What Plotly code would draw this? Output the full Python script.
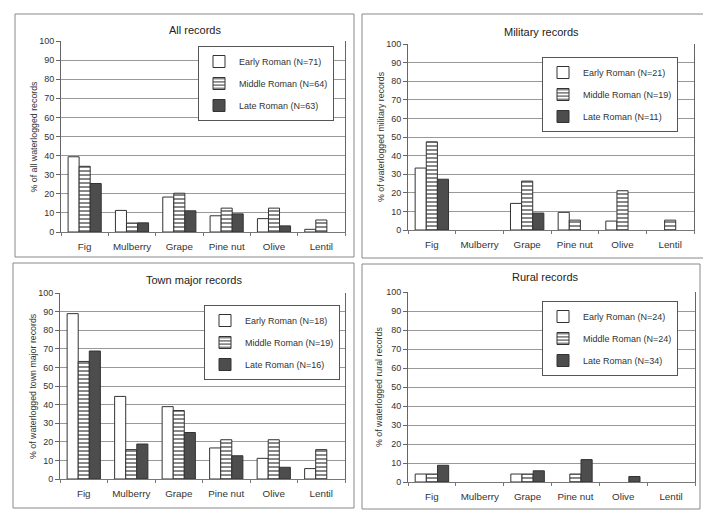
import plotly.graph_objects as go

crops = ["Fig", "Mulberry", "Grape", "Pine nut", "Olive", "Lentil"]

panel_titles = ["All records", "Military records", "Town major records", "Rural records"]
y_titles = ["% of all waterlogged records", "% of waterlogged military records",
            "% of waterlogged town major records", "% of waterlogged rural records"]

periods = ["Early Roman", "Middle Roman", "Late Roman"]
n_counts = [[71, 64, 63], [21, 19, 11], [18, 19, 16], [24, 24, 34]]

all_early = [39.4, 11.3, 18.3, 8.5, 7.0, 1.4]
all_middle = [34.4, 4.7, 20.3, 12.5, 12.5, 6.3]
all_late = [25.4, 4.8, 11.1, 9.5, 3.2, 0]

mil_early = [33.3, 0, 14.3, 9.5, 4.8, 0]
mil_middle = [47.4, 0, 26.3, 5.3, 21.1, 5.3]
mil_late = [27.3, 0, 9.1, 0, 0, 0]

town_early = [88.9, 44.4, 38.9, 16.7, 11.1, 5.6]
town_middle = [63.2, 15.8, 36.8, 21.1, 21.1, 15.8]
town_late = [68.8, 18.8, 25.0, 12.5, 6.3, 0]

rural_early = [4.2, 0, 4.2, 0, 0, 0]
rural_middle = [4.2, 0, 4.2, 4.2, 0, 0]
rural_late = [8.8, 0, 5.9, 11.8, 2.9, 0]

panel_data = [
    [all_early, all_middle, all_late],
    [mil_early, mil_middle, mil_late],
    [town_early, town_middle, town_late],
    [rural_early, rural_middle, rural_late],
]

W, H = 711, 518
FONT = "Liberation Sans, Arial, sans-serif"
OX, OY = 8, 8  # page (body margin) offset compensation (px)

plot_px = [(61, 345, 41, 232), (408, 694, 44, 230), (60, 345, 293, 479), (408, 695, 292, 482)]
border_px = [(15, 354, 14, 257), (362, 704, 14, 258), (13, 354, 263, 508), (362, 700, 264, 509)]
title_px = [(195, 30), (541, 32), (194, 280), (545, 277)]
ytitle_x = [33, 381, 33, 379]
legend_right_px = [(334, 46), (678, 57), (340, 305), (678, 301)]

def fx(px):
    return (px - OX) / W

def fy(py):
    return 1 - (py - OY) / H

styles = [
    dict(color="white", pattern=dict(shape="")),
    dict(color="white", pattern=dict(shape="-", fgcolor="#555555", bgcolor="white", size=4, solidity=0.35)),
    dict(color="#4d4d4d", pattern=dict(shape="")),
]

fig = go.Figure()
layout = dict(
    template="none",
    width=W, height=H, margin=dict(l=0, r=0, t=0, b=0, autoexpand=False),
    paper_bgcolor="white", plot_bgcolor="white",
    barmode="group", bargap=0.3, bargroupgap=0.0,
    font=dict(family=FONT, size=9, color="#333333"),
    showlegend=True,
)
shapes = []
annotations = []

for p in range(4):
    sfx = "" if p == 0 else str(p + 1)
    x0, x1, yt, yb = plot_px[p]
    for k in range(3):
        st = styles[k]
        vals = [v if v > 0 else None for v in panel_data[p][k]]
        fig.add_trace(go.Bar(
            x=crops, y=vals,
            name=f"{periods[k]} (N={n_counts[p][k]})",
            xaxis="x" + sfx, yaxis="y" + sfx,
            legend="legend" + sfx, legendgroup=f"g{p}{k}",
            marker=dict(color=st["color"], pattern=st["pattern"],
                        line=dict(color="#333333", width=1)),
        ))
    layout["xaxis" + sfx] = dict(
        domain=[fx(x0), fx(x1)], anchor="y" + sfx, automargin=False,
        type="category", showgrid=False, showline=True, linecolor="#777777",
        ticks="outside", tickson="boundaries", ticklen=3, tickcolor="#777777",
        ticklabelstandoff=5, tickangle=0, tickfont=dict(size=9.8, color="#333333"),
    )
    layout["yaxis" + sfx] = dict(
        domain=[fy(yb), fy(yt)], anchor="x" + sfx, automargin=False,
        range=[0, 100], dtick=10, showgrid=True, gridcolor="#999999", gridwidth=1,
        showline=True, linecolor="#666666", mirror=True,
        ticks="outside", ticklen=4, tickcolor="#666666",
        tickfont=dict(size=9, color="#333333"), zeroline=False,
    )
    lx, ly = legend_right_px[p]
    layout["legend" + sfx] = dict(
        x=fx(lx), y=fy(ly), xanchor="right", yanchor="top",
        bgcolor="white", bordercolor="#555555", borderwidth=1,
        font=dict(size=9, color="#333333", family=FONT),
        tracegroupgap=3, itemwidth=30,
    )
    bx0, bx1, by0, by1 = border_px[p]
    shapes.append(dict(type="rect", xref="paper", yref="paper",
                       x0=fx(bx0), x1=fx(bx1), y0=fy(by1), y1=fy(by0),
                       line=dict(color="#888888", width=1)))
    tx, ty = title_px[p]
    annotations.append(dict(text=panel_titles[p], xref="paper", yref="paper",
                            x=fx(tx), y=fy(ty), xanchor="center", yanchor="middle",
                            showarrow=False, font=dict(size=11, color="#222222")))
    annotations.append(dict(text=y_titles[p], xref="paper", yref="paper",
                            x=fx(ytitle_x[p]), y=fy((yt + yb) / 2),
                            xanchor="center", yanchor="middle", showarrow=False,
                            textangle=-90, font=dict(size=8.8, color="#333333")))

layout["shapes"] = shapes
layout["annotations"] = annotations
fig.update_layout(**layout)
fig.write_html("out.html")
